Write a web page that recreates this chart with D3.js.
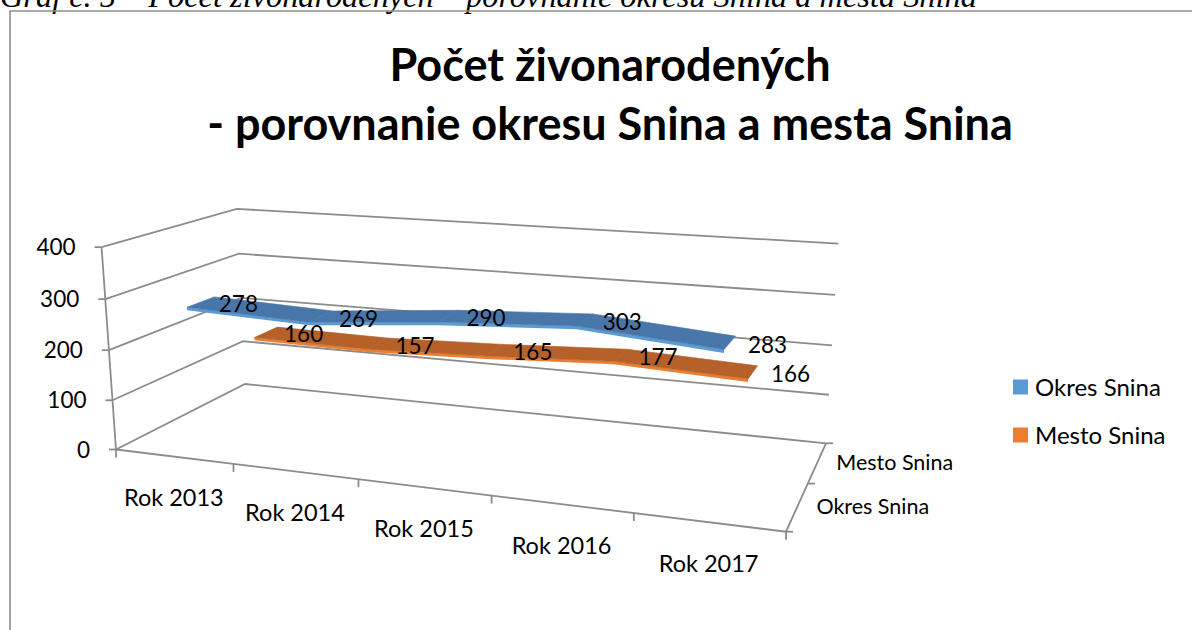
<!DOCTYPE html>
<html><head><meta charset="utf-8">
<script src="https://cdn.jsdelivr.net/npm/d3@7"></script>
<style>
body{margin:0;background:#fff}
svg{display:block}
text{font-family:Lato,"Noto Sans",sans-serif;fill:#000}
</style>
</head><body>
<svg id="chart" width="1192" height="630"></svg>
<script>
// ---------------- data ----------------
const caption = "Graf č. 5 – Počet živonarodených – porovnanie okresu Snina a mesta Snina";
const titleLines = ["Počet živonarodených", "- porovnanie okresu Snina a mesta Snina"];
const categories = ["Rok 2013", "Rok 2014", "Rok 2015", "Rok 2016", "Rok 2017"];
const seriesNames = ["Okres Snina", "Mesto Snina"];
const okresValues = [278, 269, 290, 303, 283];
const mestoValues = [160, 157, 165, 177, 166];
const valueTicks = [0, 100, 200, 300, 400];

// ---------------- styles / layout ----------------
const seriesColors = ["#5b9bd5", "#ed7d31"];
const seriesTopColors = ["#4876a8", "#b6602a"];
const gridColor = "#8c8c8c";
// projected corners of the 3D plot box (screen layout)
const box = {
  fl: [116, 449.5], fr: [786, 531.7], bl: [245, 384], br: [826, 443.3],
  flTop: [101.7, 247.3], blTop: [236.7, 209], brTop: [838.3, 243.3]
};

const svg = d3.select("#chart");
const W = 1192, H = 630;
svg.append("rect").attr("width", W).attr("height", H).attr("fill", "#fff");

// ---------- projection (perspective, fitted to box layout) ----------
function squareToQuad(p00, p10, p11, p01) {
  const [x0, y0] = p00, [x1, y1] = p10, [x2, y2] = p11, [x3, y3] = p01;
  const dx1 = x1 - x2, dx2 = x3 - x2, dx3 = x0 - x1 + x2 - x3;
  const dy1 = y1 - y2, dy2 = y3 - y2, dy3 = y0 - y1 + y2 - y3;
  const den = dx1 * dy2 - dx2 * dy1;
  const g = (dx3 * dy2 - dx2 * dy3) / den;
  const h = (dx1 * dy3 - dx3 * dy1) / den;
  return {
    a: x1 - x0 + g * x1, b: x3 - x0 + h * x3, c: x0,
    d: y1 - y0 + g * y1, e: y3 - y0 + h * y3, f: y0, g, h
  };
}
const Hm = squareToQuad(box.fl, box.fr, box.br, box.bl); // (u,w): u along categories, w depth
function base(u, w) {
  return [Hm.a * u + Hm.b * w + Hm.c, Hm.d * u + Hm.e * w + Hm.f, Hm.g * u + Hm.h * w + 1];
}
// fit vertical column (p,q,r) by least squares on top corners (v = 1)
(function fitVertical() {
  const rows = [], rhs = [];
  [[0, 0, box.flTop], [0, 1, box.blTop], [1, 1, box.brTop]].forEach(([u, w, t]) => {
    const B = base(u, w);
    rows.push([1, 0, -t[0]]); rhs.push(t[0] * B[2] - B[0]);
    rows.push([0, 1, -t[1]]); rhs.push(t[1] * B[2] - B[1]);
  });
  const A = [[0,0,0],[0,0,0],[0,0,0]], bb = [0,0,0];
  rows.forEach((r, k) => {
    for (let i = 0; i < 3; i++) {
      bb[i] += r[i] * rhs[k];
      for (let j = 0; j < 3; j++) A[i][j] += r[i] * r[j];
    }
  });
  const det = m => m[0][0]*(m[1][1]*m[2][2]-m[1][2]*m[2][1]) - m[0][1]*(m[1][0]*m[2][2]-m[1][2]*m[2][0]) + m[0][2]*(m[1][0]*m[2][1]-m[1][1]*m[2][0]);
  const D = det(A);
  const sol = [0, 1, 2].map(i => det(A.map((row, ri) => row.map((v, ci) => ci === i ? bb[ri] : v))) / D);
  Hm.p = sol[0]; Hm.q = sol[1]; Hm.r = sol[2];
})();
function proj(u, v, w) {
  const B = base(u, w);
  const X = B[0] + Hm.p * v, Y = B[1] + Hm.q * v, Z = B[2] + Hm.r * v;
  return [X / Z, Y / Z];
}

// ---------- scales ----------
const xBand = d3.scaleBand().domain(categories).range([0, 1]);
const xPoint = d3.scalePoint().domain(categories).range([0, 1]).padding(0.5);
const yScale = d3.scaleLinear().domain([0, 400]).range([0, 1]);
const zBand = d3.scaleBand().domain(seriesNames).range([0, 1]);

const line = d3.line();

// ---------- caption above the chart (cut at the top edge, as in the source) ----------
const cap = svg.append("text").text(caption)
  .attr("x", 0).attr("y", 7)
  .style("font-family", "'Liberation Serif','Times New Roman',serif")
  .style("font-style", "italic").style("font-size", "30px");
const capLen = cap.node().getComputedTextLength();
cap.style("font-size", (30 * 977 / capLen) + "px");

// ---------- chart frame ----------
svg.append("path").attr("d", "M10,700V11H1300")
  .attr("fill", "none").attr("stroke", "#8e8e8e").attr("stroke-width", 1.6);

// ---------- title ----------
svg.append("text").attr("x", 610).attr("y", 81).attr("text-anchor", "middle")
  .style("font-weight", "bold").style("font-size", "45px").text(titleLines[0]);
svg.append("text").attr("x", 610).attr("y", 140).attr("text-anchor", "middle")
  .style("font-weight", "bold").style("font-size", "45px").text(titleLines[1]);

// ---------- walls / gridlines ----------
const gridG = svg.append("g").attr("fill", "none").attr("stroke", gridColor).attr("stroke-width", 1.8);
valueTicks.forEach(t => {
  const v = yScale(t);
  gridG.append("path").attr("d", line([proj(0, v, 0), proj(0, v, 1), proj(1, v, 1)]));
});
gridG.append("path").attr("d", line([proj(0, 0, 0), proj(0, 1, 0)]));
gridG.append("path").attr("d", line([proj(0, 0, 0), proj(1, 0, 0), proj(1, 0, 1)]));

// value ticks + labels
valueTicks.forEach(t => {
  const [x, y] = proj(0, yScale(t), 0);
  gridG.append("path").attr("d", line([[x - 7, y], [x, y]]));
  svg.append("text").attr("x", x - 26).attr("y", y).attr("dy", "0.36em")
    .attr("text-anchor", "end").style("font-size", "22.5px").text(t);
});
// category ticks
const catEdges = categories.map(c => xBand(c)).concat([1]);
catEdges.forEach(u => {
  const [x, y] = proj(u, 0, 0);
  gridG.append("path").attr("d", line([[x, y], [x, y + 8]]));
});
categories.forEach(c => {
  const [x, y] = proj(xPoint(c), 0, 0);
  svg.append("text").attr("x", x).attr("y", y + 41).attr("dy", "0.36em")
    .attr("text-anchor", "middle").style("font-size", "23.5px").text(c);
});
// depth ticks + labels
const depthEdges = seriesNames.map(s => zBand(s)).concat([1]);
depthEdges.forEach(w => {
  const [x, y] = proj(1, 0, w);
  gridG.append("path").attr("d", line([[x, y], [x + 7, y]]));
});
seriesNames.forEach(s => {
  const [x, y] = proj(1, 0, zBand(s) + zBand.bandwidth() / 2);
  svg.append("text").attr("x", x + 19).attr("y", y).attr("dy", "0.36em")
    .style("font-size", "21.5px").text(s);
});

// ---------- ribbons ----------
const seriesData = [
  { name: seriesNames[0], values: okresValues, color: seriesColors[0], top: seriesTopColors[0] },
  { name: seriesNames[1], values: mestoValues, color: seriesColors[1], top: seriesTopColors[1] }
];
const ribbonHalf = zBand.bandwidth() * 0.2;
const thick = yScale(6);
const ribbonG = svg.append("g");
const labelG = svg.append("g");
seriesData.slice().reverse().forEach(s => {
  const wc = zBand(s.name) + zBand.bandwidth() / 2;
  const w1 = wc - ribbonHalf, w2 = wc + ribbonHalf;
  const pts = categories.map((c, i) => ({ u: xPoint(c), v: yScale(s.values[i]) }));
  const front = pts.map(p => proj(p.u, p.v, w1))
    .concat(pts.slice().reverse().map(p => proj(p.u, p.v - thick, w1)));
  ribbonG.append("path").attr("d", line(front) + "Z").attr("fill", s.color);
  for (let i = 0; i < pts.length - 1; i++) {
    const a = pts[i], b = pts[i + 1];
    const poly = [proj(a.u, a.v, w1), proj(b.u, b.v, w1), proj(b.u, b.v, w2), proj(a.u, a.v, w2)];
    ribbonG.append("path").attr("d", line(poly) + "Z")
      .attr("fill", s.top).attr("stroke", s.top).attr("stroke-width", 0.6);
  }
  pts.forEach((p, i) => {
    const [x, y] = proj(p.u, p.v, wc);
    labelG.append("text").attr("x", x + 18).attr("y", y + 2).attr("dy", "0.36em")
      .style("font-size", "22.5px").text(s.values[i]);
  });
});

// ---------- legend ----------
const legendG = svg.append("g");
seriesData.forEach((s, i) => {
  const y = 387 + i * 48;
  legendG.append("rect").attr("x", 1013).attr("y", y - 7.5).attr("width", 15).attr("height", 15).attr("fill", s.color);
  legendG.append("text").attr("x", 1035).attr("y", y).attr("dy", "0.36em")
    .style("font-size", "24px").text(s.name);
});
</script>
</body></html>
